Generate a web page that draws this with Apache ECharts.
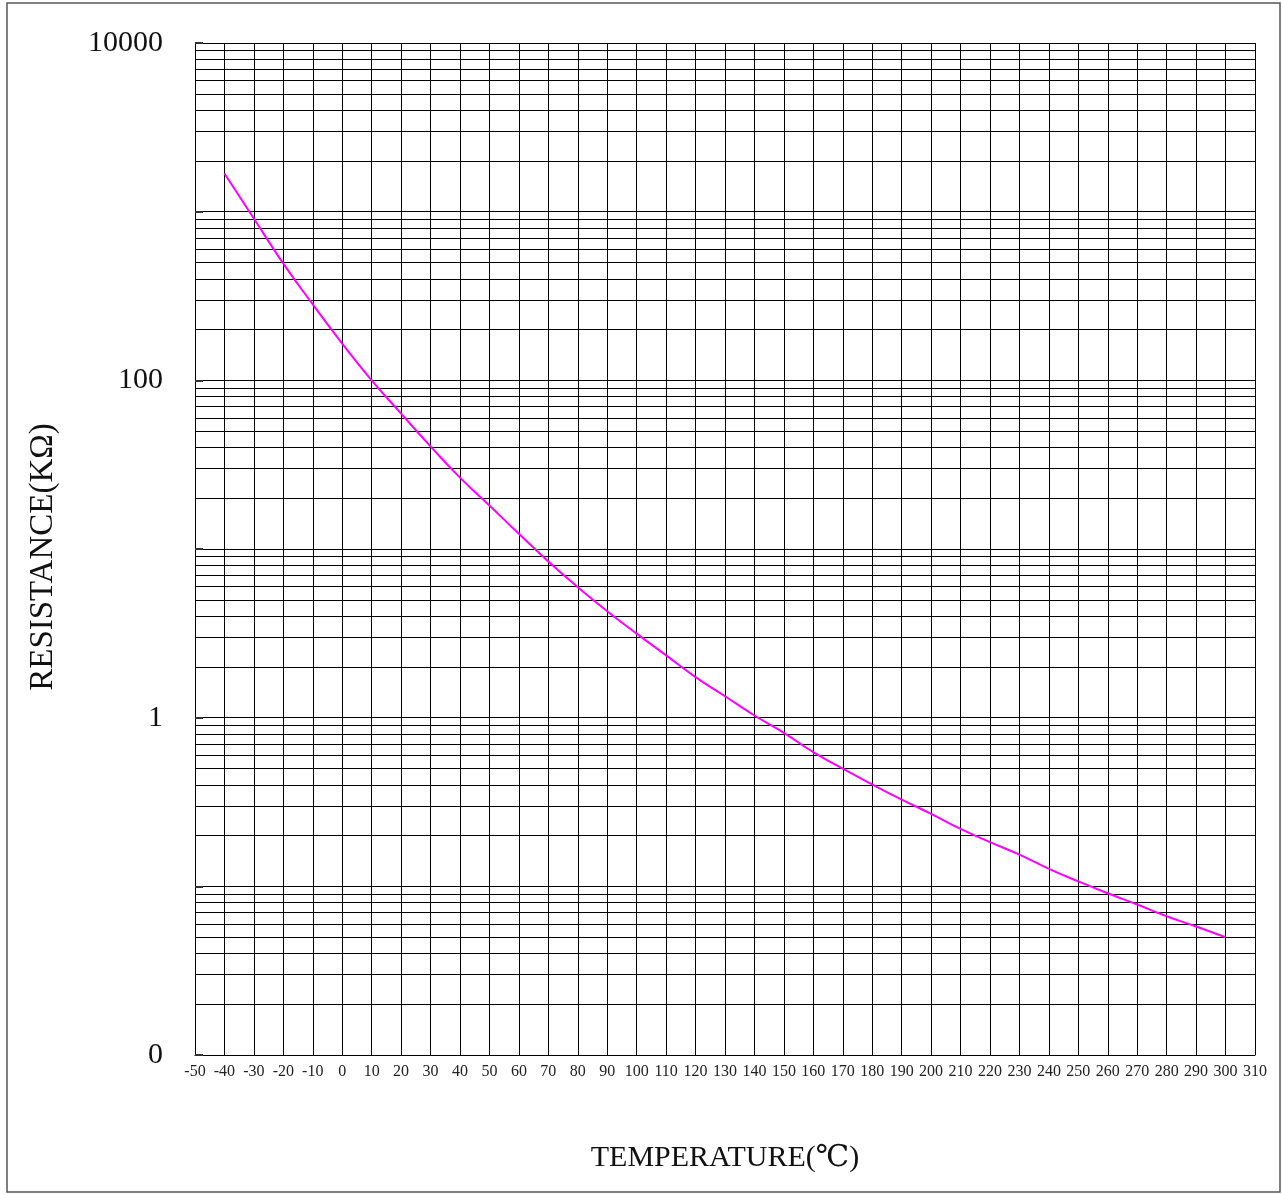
<!DOCTYPE html>
<html>
<head>
<meta charset="utf-8">
<script src="https://cdn.jsdelivr.net/npm/echarts@6/dist/echarts.min.js"></script>
<style>
html,body{margin:0;padding:0;background:#fff;}
#chart{width:1283px;height:1195px;}
</style>
</head>
<body>
<div id="chart"></div>
<script>
// Temperature (°C)
var temperatures = [-40,-30,-20,-10,0,10,20,30,40,50,60,70,80,90,100,110,120,130,140,150,160,170,180,190,200,210,220,230,240,250,260,270,280,290,300];
// Resistance (kΩ)
var resistances = [1683,910,492,282,165,100,63.5,40.6,26.5,18.1,12.3,8.44,5.94,4.28,3.15,2.34,1.74,1.34,1.03,0.813,0.624,0.498,0.402,0.327,0.269,0.219,0.183,0.154,0.127,0.107,0.091,0.078,0.0665,0.0578,0.0499];
// Y-axis labels (value -> shown text)
var yLabelValues = [10000, 100, 1, 0.01];
var yLabelTexts  = ['10000', '100', '1', '0'];
var yDecades = [0.01, 0.1, 1, 10, 100, 1000, 10000];
var xTicks = {min: -50, max: 310, step: 10};

var minorGrid = [];
for (var d = 0; d < yDecades.length - 1; d++) {
  for (var m = 2; m <= 9; m++) {
    minorGrid.push({yAxis: +(yDecades[d] * m).toPrecision(6)});
  }
}

var SERIF = '"Liberation Serif","DejaVu Serif",serif';
var chart = echarts.init(document.getElementById('chart'), null, {renderer: 'canvas'});
chart.setOption({
  animation: false,
  backgroundColor: '#fff',
  graphic: [{
    type: 'rect',
    shape: {x: 7, y: 3, width: 1273, height: 1189},
    style: {fill: 'none', stroke: '#555', lineWidth: 1.5},
    silent: true
  }],
  grid: {left: 195, top: 43, right: 28, bottom: 140, containLabel: false},
  xAxis: {
    type: 'value',
    min: xTicks.min,
    max: xTicks.max,
    interval: xTicks.step,
    name: 'TEMPERATURE(℃)',
    nameLocation: 'middle',
    nameGap: 88,
    nameTextStyle: {fontFamily: SERIF, fontSize: 30, color: '#111'},
    axisLine: {show: true, onZero: false, lineStyle: {color: '#000', width: 1}},
    axisTick: {show: false},
    axisLabel: {fontFamily: SERIF, fontSize: 16, color: '#222', margin: 9, showMinLabel: true, showMaxLabel: true},
    splitLine: {show: true, lineStyle: {color: '#000', width: 1}}
  },
  yAxis: {
    type: 'log',
    logBase: 10,
    min: 0.01,
    max: 10000,
    name: 'RESISTANCE(KΩ)',
    nameLocation: 'middle',
    nameGap: 135,
    nameRotate: 90,
    nameTextStyle: {fontFamily: SERIF, fontSize: 33, color: '#111', padding: [0, 16, 0, 0]},
    axisLine: {show: true, onZero: false, lineStyle: {color: '#000', width: 1}},
    axisTick: {show: true, inside: true, length: 8, lineStyle: {color: '#333', width: 2}},
    axisLabel: {
      fontFamily: SERIF, fontSize: 30, color: '#111', margin: 32,
      formatter: function (v) {
        for (var i = 0; i < yLabelValues.length; i++) {
          if (Math.abs(Math.log10(v) - Math.log10(yLabelValues[i])) < 1e-6) return yLabelTexts[i];
        }
        return '';
      }
    },
    splitLine: {show: true, lineStyle: {color: '#000', width: 1}}
  },
  series: [{
    type: 'line',
    data: temperatures.map(function (t, i) { return [t, resistances[i]]; }),
    smooth: true,
    showSymbol: false,
    lineStyle: {color: '#ff00ff', width: 2},
    itemStyle: {color: '#ff00ff'},
    z: 5,
    markLine: {
      silent: true,
      symbol: ['none', 'none'],
      label: {show: false},
      lineStyle: {color: '#000', width: 1, type: 'solid'},
      emphasis: {disabled: true},
      data: minorGrid,
      z: 1
    }
  }]
});
</script>
</body>
</html>
